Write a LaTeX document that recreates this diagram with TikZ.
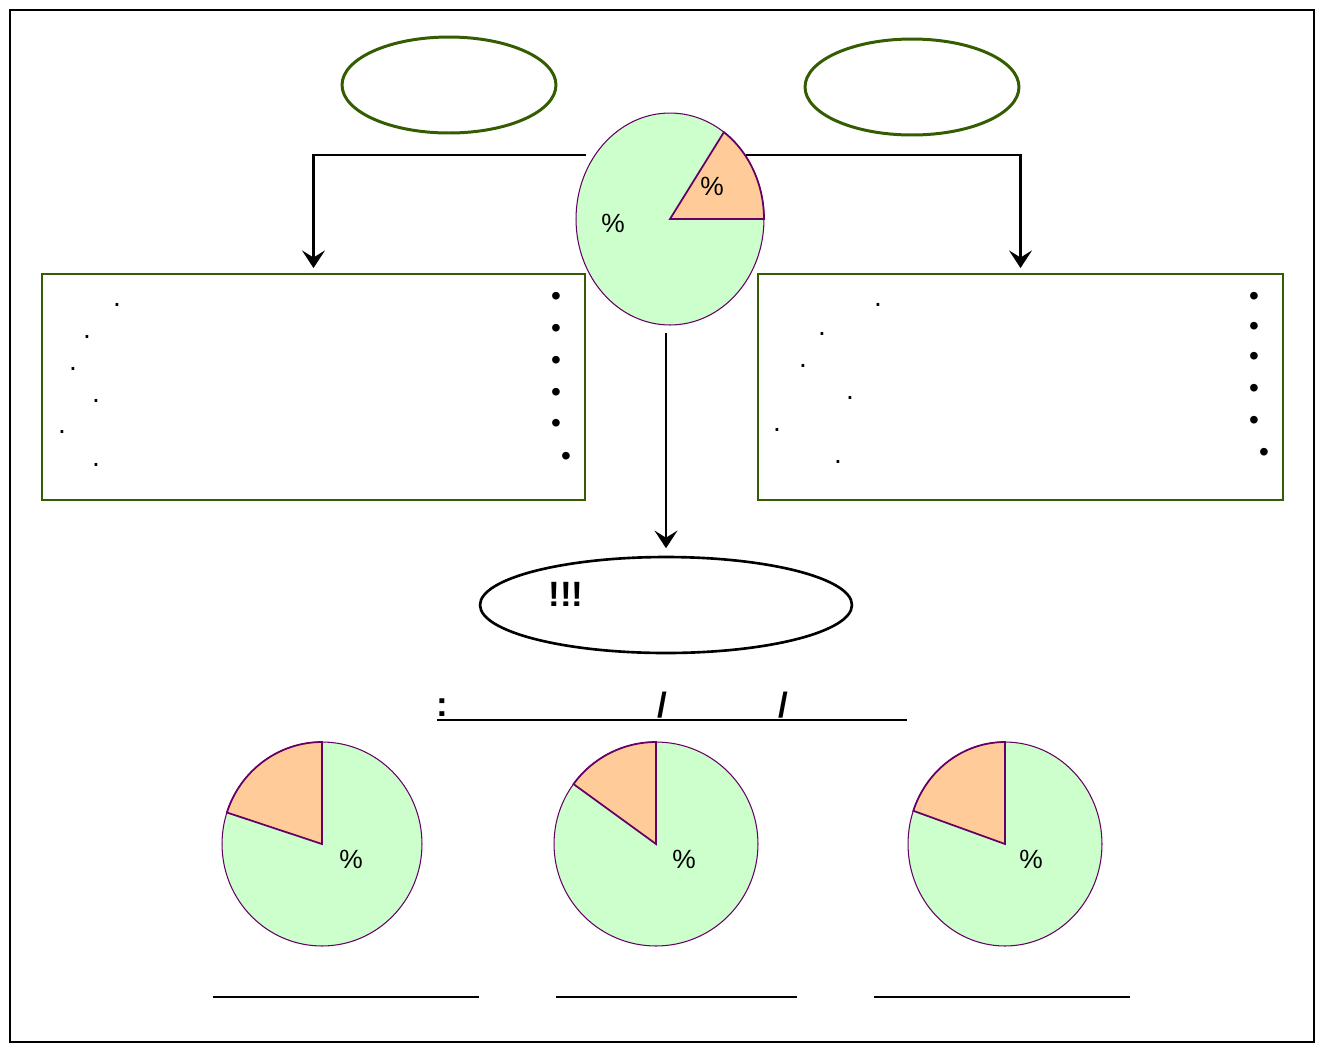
\documentclass[tikz,border=0pt]{standalone}
\usepackage{fontspec}
\setmainfont{Liberation Sans}
\usepackage{xcolor}
\definecolor{leaf}{RGB}{52,92,0}
\definecolor{piegreen}{RGB}{204,255,204}
\definecolor{pieorange}{RGB}{255,204,153}
\definecolor{pieline}{RGB}{102,0,102}
\usepackage{tikz}
\usetikzlibrary{shapes.geometric}
\usetikzlibrary{arrows.meta}

\begin{document}
\begin{tikzpicture}[x=0.02cm,y=-0.02cm,
  greenoval/.style={ellipse,draw=leaf,line width=1.7pt,inner sep=0pt,outer sep=0pt,minimum width=4.28cm,minimum height=1.92cm},
  greenbox/.style={rectangle,draw=leaf,line width=1.5pt,inner sep=0pt,outer sep=0pt,minimum height=4.52cm},
  piebody/.style={ellipse,draw=pieline,fill=piegreen,line width=0.6pt,inner sep=0pt,outer sep=0pt},
  slice/.style={draw=pieline,fill=pieorange,line width=1pt},
  pct/.style={font=\fontsize{15}{17}\selectfont,inner sep=0pt},
  smalldot/.style={font=\fontsize{16}{18}\selectfont,inner sep=0pt},
  bigdot/.style={font=\fontsize{16}{18}\selectfont,inner sep=0pt},
  sign/.style={font=\bfseries\fontsize{20}{22}\selectfont,inner sep=0pt},
  feed/.style={line width=1.5pt,-{Stealth[length=10pt,width=13pt,inset=4pt]}}]
\useasboundingbox (0,0) rectangle (1319,1046);
\draw[line width=1.1pt] (10,10) rectangle (1314,1042);

% top row
\node[greenoval] (leftoval) at (449,85) {};
\node[greenoval] (rightoval) at (912,87) {};
\node[piebody,minimum width=3.76cm,minimum height=4.24cm] (mainpie) at (670,219) {};
\filldraw[slice] (mainpie.center) -- ++(1.88cm,0) arc[start angle=0,end angle=55,x radius=1.88cm,y radius=2.12cm] -- cycle;
\node[pct] (mainpieG) at (613,223) {\%};
\node[pct] (mainpieO) at (712,186) {\%};

% boxes
\node[greenbox,minimum width=10.86cm] (leftbox) at (313.5,387) {};
\node[greenbox,minimum width=10.5cm] (rightbox) at (1020.5,387) {};
\coordinate (splitL) at (586,155);
\coordinate (splitR) at (746,155);
\draw[feed,shorten >=3.4pt] (splitL) -| (leftbox.north);
\draw[feed,shorten >=3.4pt] (splitR) -| (rightbox.north);

\node[smalldot] (ldot1) at (117,305) {.};
\node[smalldot] (ldot2) at (87,337) {.};
\node[smalldot] (ldot3) at (73,369) {.};
\node[smalldot] (ldot4) at (96,401) {.};
\node[smalldot] (ldot5) at (62,432) {.};
\node[smalldot] (ldot6) at (96,465) {.};
\node[bigdot] (lbul1) at (556,299) {•};
\node[bigdot] (lbul2) at (556,331) {•};
\node[bigdot] (lbul3) at (556,363) {•};
\node[bigdot] (lbul4) at (556,395) {•};
\node[bigdot] (lbul5) at (556,426) {•};
\node[bigdot] (lbul6) at (566,459) {•};

\node[smalldot] (rdot1) at (878,305) {.};
\node[smalldot] (rdot2) at (822,334) {.};
\node[smalldot] (rdot3) at (803,366) {.};
\node[smalldot] (rdot4) at (850,398) {.};
\node[smalldot] (rdot5) at (777,430) {.};
\node[smalldot] (rdot6) at (838,462) {.};
\node[bigdot] (rbul1) at (1254,299) {•};
\node[bigdot] (rbul2) at (1254,329) {•};
\node[bigdot] (rbul3) at (1254,359) {•};
\node[bigdot] (rbul4) at (1254,391) {•};
\node[bigdot] (rbul5) at (1254,423) {•};
\node[bigdot] (rbul6) at (1264,455) {•};

% result
\node[ellipse,draw,line width=1.5pt,inner sep=0pt,outer sep=0pt,minimum width=7.44cm,minimum height=1.92cm] (goaloval) at (666,605) {};
\draw[feed,shorten <=4.5pt,shorten >=5pt] (mainpie.south -| goaloval.north) -- (goaloval.north);
\node[sign] (goaltext) at (566,594) {!!!};

\draw[line width=1.2pt] (437,720) -- (907,720);
\node[sign] (colon) at (442,708) {:};
\node[sign] (slash1) at (662,705) {/};
\node[sign] (slash2) at (783,705) {/};

% bottom pies
\node[piebody,minimum width=4cm,minimum height=4.08cm] (pie1) at (322,844) {};
\filldraw[slice] (pie1.center) -- ++(0,2.04cm) arc[start angle=90,end angle=162,x radius=2cm,y radius=2.04cm] -- cycle;
\node[pct] (pie1G) at (351,859) {\%};
\node[piebody,minimum width=4.08cm,minimum height=4.08cm] (pie2) at (656,844) {};
\filldraw[slice] (pie2.center) -- ++(0,2.04cm) arc[start angle=90,end angle=144,x radius=2.04cm,y radius=2.04cm] -- cycle;
\node[pct] (pie2G) at (684,859) {\%};
\node[piebody,minimum width=3.88cm,minimum height=4.08cm] (pie3) at (1005,844) {};
\filldraw[slice] (pie3.center) -- ++(0,2.04cm) arc[start angle=90,end angle=161,x radius=1.94cm,y radius=2.04cm] -- cycle;
\node[pct] (pie3G) at (1031,859) {\%};

\draw[line width=1.2pt] (213,997) -- (479,997);
\draw[line width=1.2pt] (556,997) -- (797,997);
\draw[line width=1.2pt] (874,997) -- (1130,997);
\end{tikzpicture}
\end{document}
